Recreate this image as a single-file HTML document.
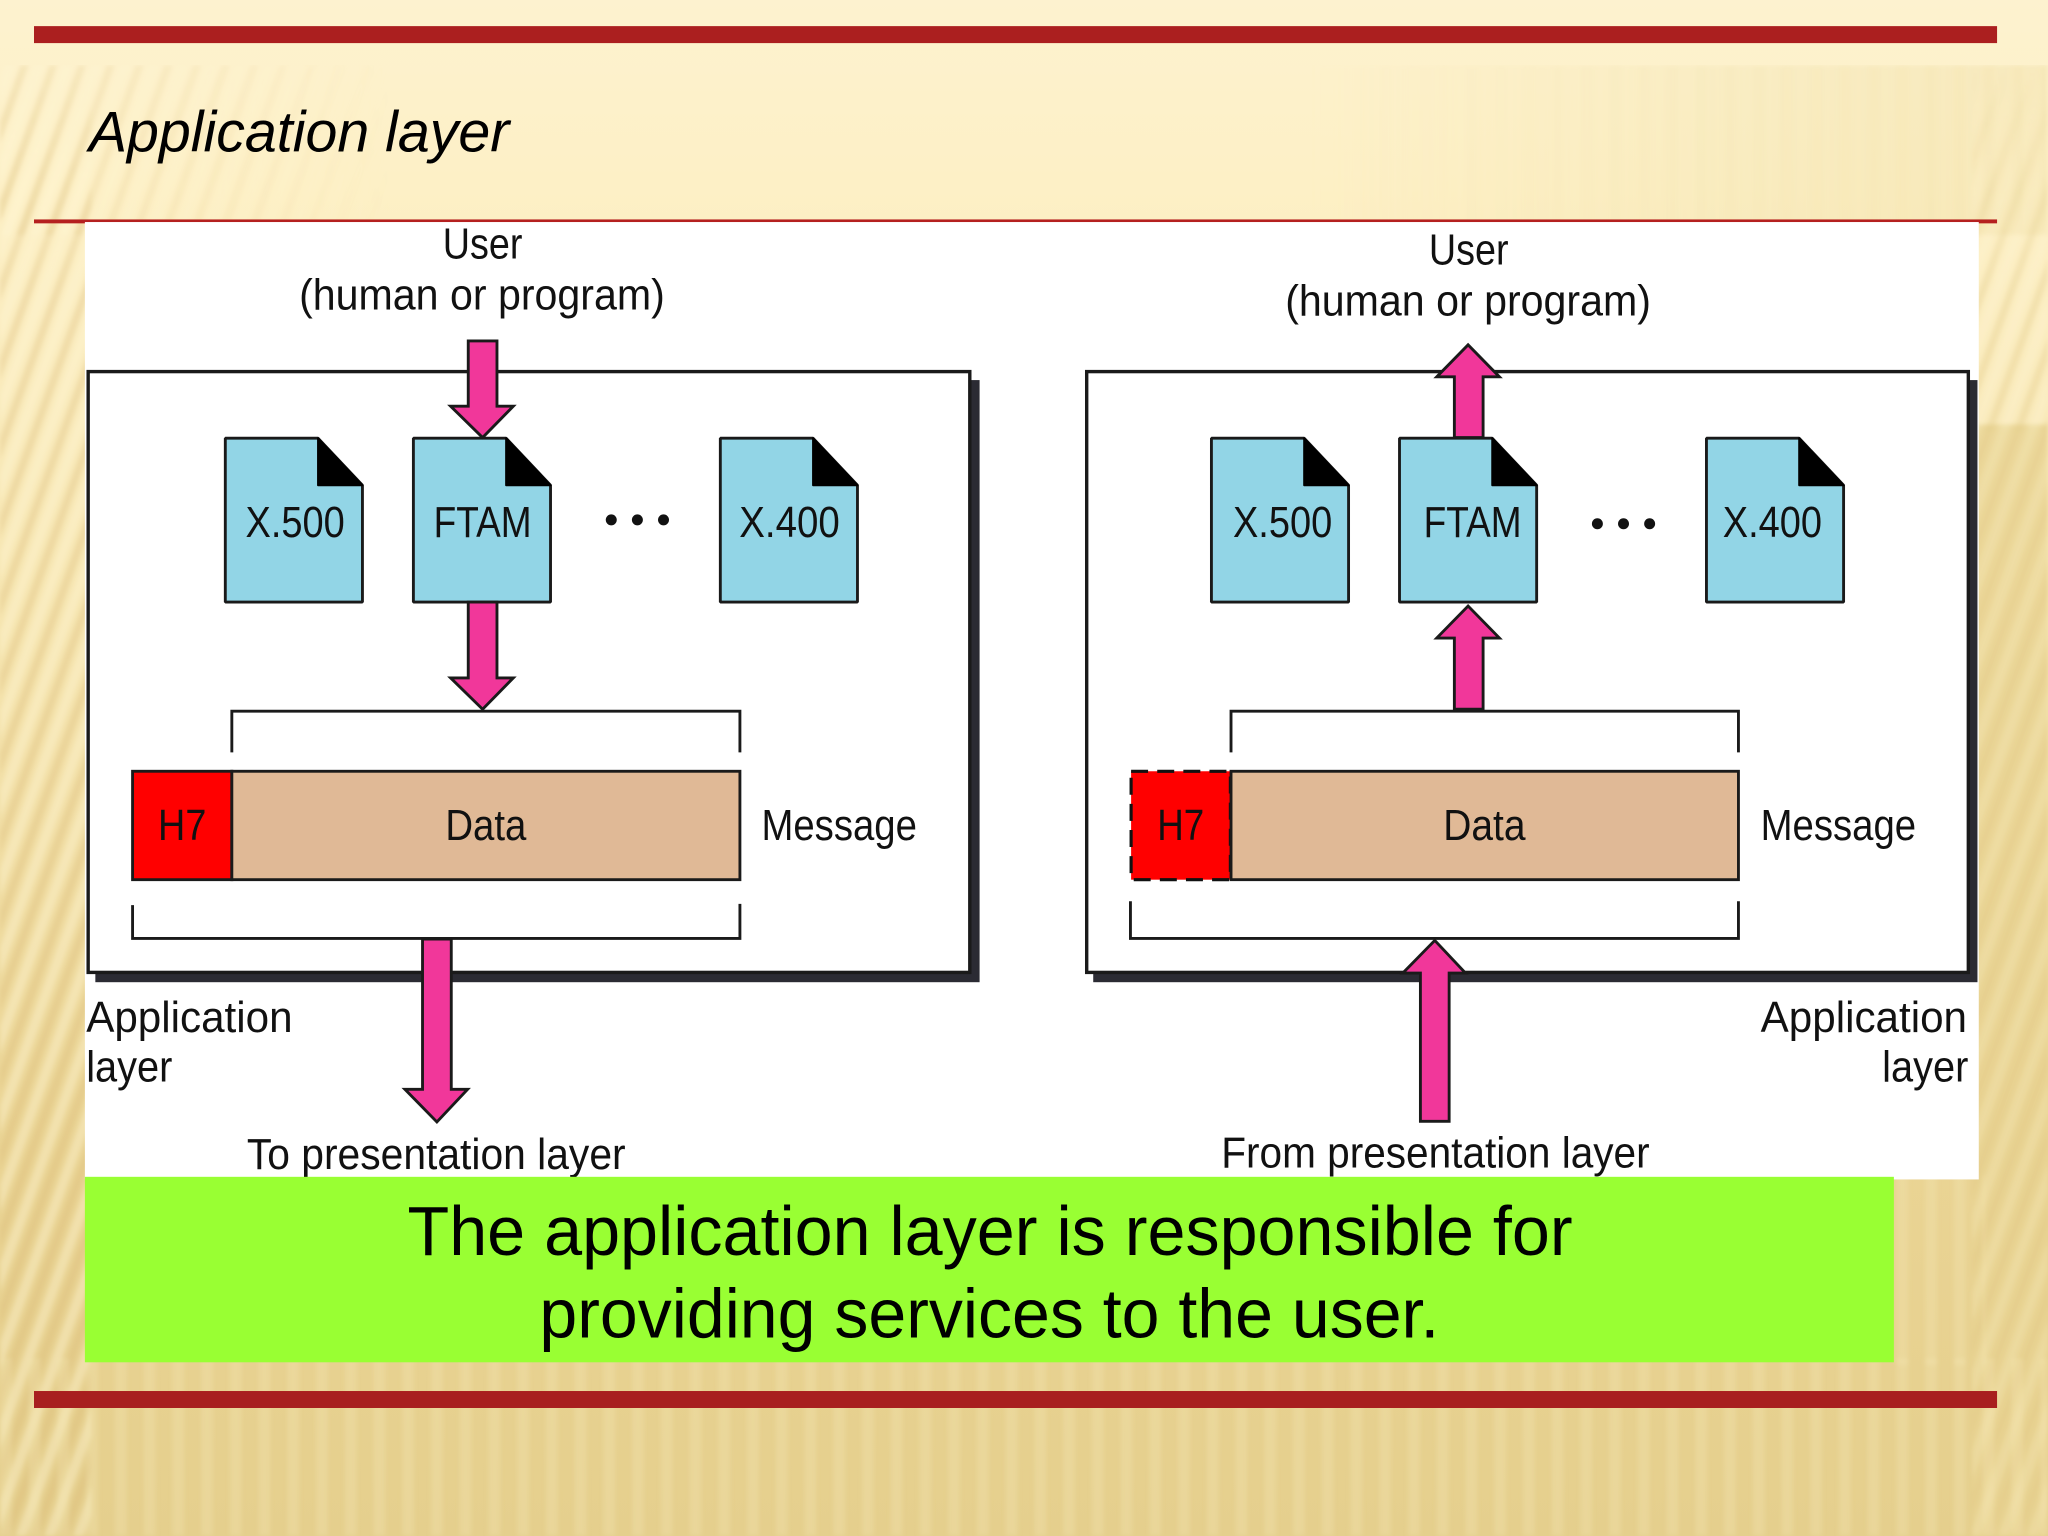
<!DOCTYPE html>
<html><head><meta charset="utf-8"><style>
html,body{margin:0;padding:0;background:#f5e4ae}
svg{display:block;position:absolute;left:0;top:0}
.d{font-family:"Liberation Sans",Arial,sans-serif;font-size:33px;fill:#111}
</style></head><body>
<svg xmlns="http://www.w3.org/2000/svg" width="2048" height="1536" viewBox="0 0 1568 1176">
<defs>
<linearGradient id="bg" x1="0" y1="0" x2="0" y2="1">
<stop offset="0" stop-color="#fdf2cf"/><stop offset=".12" stop-color="#fdf0c6"/>
<stop offset=".4" stop-color="#f6e5b0"/><stop offset=".75" stop-color="#ead494"/><stop offset="1" stop-color="#e5cf8d"/>
</linearGradient>
<pattern id="st" width="22" height="60" patternUnits="userSpaceOnUse" patternTransform="skewX(-20)">
<rect x="0" width="8" height="60" fill="#fff7d8" opacity=".5"/><rect x="12" width="6" height="60" fill="#d3b56c" opacity=".35"/>
</pattern>
<pattern id="sv" width="22" height="60" patternUnits="userSpaceOnUse">
<rect x="0" width="9" height="60" fill="#f8e9b8" opacity=".3"/>
</pattern>
<linearGradient id="fl" x1="0" y1="0" x2="1" y2="0"><stop offset="0" stop-color="#fff" stop-opacity="1"/><stop offset="1" stop-color="#fff" stop-opacity="0"/></linearGradient>
<linearGradient id="fr" x1="0" y1="0" x2="1" y2="0"><stop offset="0" stop-color="#fff" stop-opacity="0"/><stop offset="1" stop-color="#fff" stop-opacity="1"/></linearGradient>
<linearGradient id="fv" x1="0" y1="0" x2="0" y2="1"><stop offset="0" stop-color="#fff" stop-opacity="0"/><stop offset=".15" stop-color="#fff" stop-opacity="1"/><stop offset="1" stop-color="#fff" stop-opacity="1"/></linearGradient>
<mask id="mv"><rect x="0" y="50" width="1568" height="1126" fill="url(#fv)"/></mask>
<mask id="ml"><rect x="0" y="50" width="300" height="130" fill="url(#fl)"/></mask>
<mask id="mr"><rect x="1000" y="50" width="568" height="130" fill="url(#fr)"/></mask>
<filter id="soft" x="0" y="0" width="100%" height="100%"><feGaussianBlur stdDeviation="1.6"/></filter>
<g id="doc"><path d="M0 0H71L105 36V125.500H0Z" fill="#92d5e6" stroke="#1a1a1a" stroke-width="2.200" stroke-linejoin="bevel"/><path d="M71 0L105 36H71Z" fill="#000" stroke="#000" stroke-width="1.500" stroke-linejoin="round"/></g>
</defs>
<rect width="1568" height="1176" fill="url(#bg)"/>
<g filter="url(#soft)">
<g mask="url(#mv)"><rect x="0" y="50" width="70" height="1126" fill="url(#st)" opacity=".75"/></g>
<g mask="url(#ml)"><rect x="0" y="50" width="300" height="130" fill="url(#st)" opacity=".55"/></g>
<g mask="url(#mr)"><rect x="1000" y="50" width="568" height="130" fill="url(#sv)"/><rect x="1000" y="50" width="568" height="130" fill="#efdca3" opacity=".35"/></g>
<g mask="url(#mv)"><rect x="1510" y="50" width="58" height="280" fill="url(#st)" opacity=".6"/></g>
<rect x="1510" y="325" width="58" height="851" fill="#e9d392" opacity=".8"/>
<rect x="1510" y="325" width="58" height="851" fill="url(#st)" opacity=".35"/>
<rect x="0" y="1040" width="1568" height="136" fill="url(#sv)"/>
<rect x="1450" y="900" width="70" height="145" fill="url(#sv)"/>
</g>
<rect x="26" y="20" width="1503" height="13" fill="#ab1f1f"/>
<rect x="26" y="168" width="1503" height="3" fill="#b5201f"/>
<rect x="26" y="1065" width="1503" height="13" fill="#a81f1f"/>
<text x="68" y="116" font-family="'Liberation Sans',Arial,sans-serif" font-style="italic" font-size="44" fill="#000" textLength="322" lengthAdjust="spacingAndGlyphs">Application layer</text>

<rect x="65" y="170" width="1450" height="733" fill="#fff"/>

<!-- left panel -->
<rect x="73" y="291" width="677" height="461" fill="#2b2b33"/>
<rect x="67.500" y="284.500" width="675" height="460" fill="#fff" stroke="#1a1a1a" stroke-width="2.600"/>
<use href="#doc" x="172.500" y="335.500"/><use href="#doc" x="316.500" y="335.500"/><use href="#doc" x="551.500" y="335.500"/>
<text class="d" x="188" y="411" textLength="76" lengthAdjust="spacingAndGlyphs">X.500</text>
<text class="d" x="332" y="411" textLength="75" lengthAdjust="spacingAndGlyphs">FTAM</text>
<text class="d" x="566" y="411" textLength="77" lengthAdjust="spacingAndGlyphs">X.400</text>
<circle cx="468" cy="398" r="4.200" fill="#111"/><circle cx="488" cy="398" r="4.200" fill="#111"/><circle cx="508" cy="398" r="4.200" fill="#111"/>
<path d="M358.500 261H380.500V311H393L369.500 335L345 311H358.500Z" fill="#f1379a" stroke="#1a1a1a" stroke-width="2.200"/>
<path d="M358.500 461H380.500V519H393L369.500 543L345 519H358.500Z" fill="#f1379a" stroke="#1a1a1a" stroke-width="2.200"/>
<path d="M177.500 576V544.500H566.500V576" fill="none" stroke="#1a1a1a" stroke-width="2.200"/>
<rect x="101.500" y="590.500" width="76" height="83" fill="#ff0000" stroke="#1a1a1a" stroke-width="2.200"/>
<rect x="177.500" y="590.500" width="389" height="83" fill="#e0b996" stroke="#1a1a1a" stroke-width="2.200"/>
<text class="d" x="121" y="643" textLength="37" lengthAdjust="spacingAndGlyphs">H7</text>
<text class="d" x="341" y="643" textLength="62" lengthAdjust="spacingAndGlyphs">Data</text>
<text class="d" x="583" y="643" textLength="119" lengthAdjust="spacingAndGlyphs">Message</text>
<path d="M101.500 693V718.500H566.500V692" fill="none" stroke="#1a1a1a" stroke-width="2.200"/>
<path d="M323.500 719H345.500V834H358L334.500 859L310 834H323.500Z" fill="#f1379a" stroke="#1a1a1a" stroke-width="2.200"/>

<!-- right panel -->
<rect x="837" y="291" width="677" height="461" fill="#2b2b33"/>
<rect x="832" y="284.500" width="675" height="460" fill="#fff" stroke="#1a1a1a" stroke-width="2.600"/>
<use href="#doc" x="927.500" y="335.500"/><use href="#doc" x="1071.500" y="335.500"/><use href="#doc" x="1306.500" y="335.500"/>
<text class="d" x="944" y="411" textLength="76" lengthAdjust="spacingAndGlyphs">X.500</text>
<text class="d" x="1090" y="411" textLength="75" lengthAdjust="spacingAndGlyphs">FTAM</text>
<text class="d" x="1319" y="411" textLength="76" lengthAdjust="spacingAndGlyphs">X.400</text>
<circle cx="1223" cy="401" r="4.200" fill="#111"/><circle cx="1243" cy="401" r="4.200" fill="#111"/><circle cx="1263" cy="401" r="4.200" fill="#111"/>
<path d="M1113.500 335V288.500H1100L1124 264L1148 288.500H1135.500V335Z" fill="#f1379a" stroke="#1a1a1a" stroke-width="2.200"/>
<path d="M1113.500 543V488.500H1100L1124 464L1148 488.500H1135.500V543Z" fill="#f1379a" stroke="#1a1a1a" stroke-width="2.200"/>
<path d="M942.500 576V544.500H1331V576" fill="none" stroke="#1a1a1a" stroke-width="2.200"/>
<rect x="866" y="590.500" width="76" height="83" fill="#ff0000" stroke="#111" stroke-width="2.400" stroke-dasharray="13 7"/>
<rect x="942.500" y="590.500" width="388.500" height="83" fill="#e0b996" stroke="#1a1a1a" stroke-width="2.200"/>
<text class="d" x="886" y="643" textLength="36" lengthAdjust="spacingAndGlyphs">H7</text>
<text class="d" x="1105" y="643" textLength="63" lengthAdjust="spacingAndGlyphs">Data</text>
<text class="d" x="1348" y="643" textLength="119" lengthAdjust="spacingAndGlyphs">Message</text>
<path d="M865.500 690V718.500H1331V690" fill="none" stroke="#1a1a1a" stroke-width="2.200"/>
<path d="M1087.500 858.500V745H1074L1098.500 720L1122 745H1109.500V858.500Z" fill="#f1379a" stroke="#1a1a1a" stroke-width="2.200"/>

<!-- labels -->
<text class="d" x="339" y="198" textLength="61" lengthAdjust="spacingAndGlyphs">User</text>
<text class="d" x="229" y="237" textLength="280" lengthAdjust="spacingAndGlyphs">(human or program)</text>
<text class="d" x="1094" y="202.500" textLength="61" lengthAdjust="spacingAndGlyphs">User</text>
<text class="d" x="984" y="241.500" textLength="280" lengthAdjust="spacingAndGlyphs">(human or program)</text>
<text class="d" x="66" y="790" textLength="158" lengthAdjust="spacingAndGlyphs">Application</text>
<text class="d" x="66" y="828" textLength="66" lengthAdjust="spacingAndGlyphs">layer</text>
<text class="d" x="1348" y="790" textLength="158" lengthAdjust="spacingAndGlyphs">Application</text>
<text class="d" x="1441" y="828" textLength="66" lengthAdjust="spacingAndGlyphs">layer</text>
<text class="d" x="189" y="895" textLength="290" lengthAdjust="spacingAndGlyphs">To presentation layer</text>
<text class="d" x="935" y="894" textLength="328" lengthAdjust="spacingAndGlyphs">From presentation layer</text>

<rect x="65" y="901" width="1385" height="142" fill="#99ff33"/>
<text x="312" y="961" font-family="'Liberation Sans',Arial,sans-serif" font-size="53" fill="#000" textLength="892" lengthAdjust="spacingAndGlyphs">The application layer is responsible for</text>
<text x="413" y="1024" font-family="'Liberation Sans',Arial,sans-serif" font-size="53" fill="#000" textLength="689" lengthAdjust="spacingAndGlyphs">providing services to the user.</text>
</svg>
</body></html>
